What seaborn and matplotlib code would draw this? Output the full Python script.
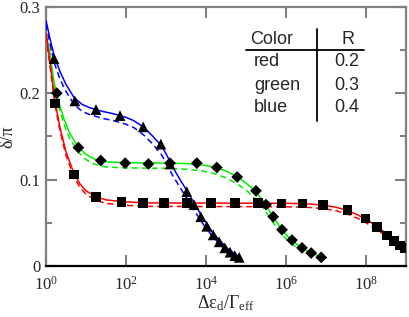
import numpy as np
import pandas as pd
import matplotlib
matplotlib.use("Agg")
import matplotlib.pyplot as plt
import seaborn as sns

# ---------------- data (x given as log10 exponents) ----------------
blue_solid_lx = [0.0, 0.1, 0.2, 0.35, 0.5, 0.7, 0.9, 1.1, 1.4, 1.7, 2.0, 2.2, 2.43, 2.65, 2.87, 3.0, 3.15, 3.35, 3.55, 3.75, 3.95, 4.15, 4.35, 4.55, 4.72, 4.85]
blue_solid_y = [0.284, 0.263, 0.244, 0.225, 0.210, 0.195, 0.187, 0.183, 0.179, 0.176, 0.172, 0.168, 0.161, 0.151, 0.140, 0.130, 0.116, 0.100, 0.085, 0.069, 0.054, 0.040, 0.029, 0.020, 0.014, 0.010]
blue_dash_lx = blue_solid_lx
blue_dash_y = [0.280, 0.257, 0.236, 0.216, 0.202, 0.187, 0.179, 0.175, 0.171, 0.168, 0.164, 0.160, 0.152, 0.142, 0.130, 0.120, 0.106, 0.091, 0.076, 0.061, 0.047, 0.035, 0.025, 0.016, 0.011, 0.007]
blue_mark_lx = [0.2, 0.72, 1.25, 1.85, 2.43, 2.87, 3.1, 3.52, 3.70, 3.87, 4.02, 4.18, 4.33, 4.47, 4.60, 4.72, 4.83]
blue_mark_y = [0.240, 0.191, 0.181, 0.174, 0.161, 0.141, 0.118, 0.086, 0.071, 0.057, 0.046, 0.036, 0.028, 0.021, 0.016, 0.012, 0.010]

green_solid_lx = [0.0, 0.1, 0.2, 0.3, 0.45, 0.6, 0.8, 1.0, 1.2, 1.5, 2.0, 3.0, 3.5, 3.9, 4.2, 4.5, 4.78, 5.0, 5.25, 5.45, 5.65, 5.85, 6.05, 6.3, 6.55, 6.8, 7.0]
green_solid_y = [0.270, 0.245, 0.213, 0.193, 0.170, 0.153, 0.138, 0.129, 0.124, 0.1205, 0.1195, 0.119, 0.1185, 0.117, 0.1145, 0.110, 0.103, 0.096, 0.086, 0.074, 0.059, 0.045, 0.034, 0.024, 0.017, 0.012, 0.009]
green_dash_lx = green_solid_lx
green_dash_y = [0.265, 0.240, 0.207, 0.187, 0.164, 0.147, 0.132, 0.123, 0.118, 0.1145, 0.1135, 0.113, 0.112, 0.110, 0.107, 0.102, 0.095, 0.088, 0.077, 0.066, 0.052, 0.039, 0.029, 0.020, 0.014, 0.010, 0.007]
green_mark_lx = [0.27, 0.81, 1.37, 1.98, 2.56, 3.1, 3.77, 4.27, 4.78, 5.25, 5.50, 5.68, 5.90, 6.15, 6.40, 6.63, 6.88]
green_mark_y = [0.200, 0.137, 0.122, 0.119, 0.118, 0.119, 0.119, 0.114, 0.103, 0.087, 0.071, 0.057, 0.042, 0.030, 0.021, 0.015, 0.010]

red_solid_lx = [0.0, 0.1, 0.22, 0.35, 0.5, 0.7, 0.85, 1.0, 1.25, 1.5, 1.9, 2.5, 4.0, 6.0, 6.5, 6.93, 7.25, 7.54, 7.8, 8.0, 8.27, 8.52, 8.7, 8.85, 9.0]
red_solid_y = [0.270, 0.235, 0.192, 0.160, 0.132, 0.107, 0.095, 0.087, 0.080, 0.0765, 0.0745, 0.073, 0.0728, 0.0725, 0.072, 0.0705, 0.068, 0.064, 0.059, 0.054, 0.046, 0.037, 0.031, 0.026, 0.021]
red_dash_lx = red_solid_lx
red_dash_y = [0.266, 0.231, 0.188, 0.156, 0.128, 0.103, 0.091, 0.083, 0.076, 0.0725, 0.0705, 0.069, 0.0688, 0.0685, 0.068, 0.0665, 0.064, 0.060, 0.055, 0.050, 0.042, 0.034, 0.028, 0.023, 0.018]
red_mark_lx = [0.22, 0.7, 1.25, 1.89, 2.42, 2.95, 3.52, 4.12, 4.72, 5.3, 5.89, 6.41, 6.93, 7.54, 7.99, 8.27, 8.52, 8.70, 8.85, 8.97]
red_mark_y = [0.188, 0.106, 0.080, 0.074, 0.073, 0.073, 0.073, 0.073, 0.073, 0.073, 0.0725, 0.0725, 0.0705, 0.0648, 0.055, 0.045, 0.035, 0.029, 0.024, 0.021]

table_header = ["Color", "R"]
table_colors = ["red", "green", "blue"]
table_R = ["0.2", "0.3", "0.4"]

x_ticks_exp = [0, 2, 4, 6, 8]
y_ticks = [0, 0.1, 0.2, 0.3]
y_tick_labels = ["0", "0.1", "0.2", "0.3"]

# ---------------- style ----------------
sns.set_style("ticks")
plt.rcParams["font.family"] = ["Liberation Serif", "DejaVu Serif"]
plt.rcParams["mathtext.fontset"] = "custom"
plt.rcParams["mathtext.rm"] = "Liberation Serif"
plt.rcParams["mathtext.it"] = "Liberation Serif:italic"

fig = plt.figure(figsize=(4.09, 3.17), dpi=100)
ax = fig.add_axes([46/409, 1-266/317, 360/409, (266-6.7)/317])

lines_spec = [
    ("#0000ff", blue_solid_lx, blue_solid_y, blue_dash_lx, blue_dash_y),
    ("#00ee00", green_solid_lx, green_solid_y, green_dash_lx, green_dash_y),
    ("#ff0000", red_solid_lx, red_solid_y, red_dash_lx, red_dash_y),
]
for col, slx, sy, dlx, dy in lines_spec:
    ds = pd.DataFrame({"x": np.power(10.0, slx), "y": sy})
    dd = pd.DataFrame({"x": np.power(10.0, dlx), "y": dy})
    sns.lineplot(data=ds, x="x", y="y", ax=ax, color=col, lw=1.1, sort=False, zorder=3)
    sns.lineplot(data=dd, x="x", y="y", ax=ax, color=col, lw=1.1, sort=False, zorder=3,
                 linestyle=(0, (4, 2.5)))

marks_spec = [
    ("s", 46, red_mark_lx, red_mark_y),
    ("D", 36, green_mark_lx, green_mark_y),
    ("^", 60, blue_mark_lx, blue_mark_y),
]
for m, s, lx, y in marks_spec:
    dm = pd.DataFrame({"x": np.power(10.0, lx), "y": y})
    sns.scatterplot(data=dm, x="x", y="y", ax=ax, marker=m, s=s, color="black",
                    edgecolor="none", zorder=4)

ax.set_xscale("log")
ax.set_xlim(1, 1e9)
ax.set_ylim(0, 0.3)
ax.set_xticks([10.0**e for e in x_ticks_exp])
ax.set_xticklabels([r"$\mathrm{10}^{%d}$" % e for e in x_ticks_exp], fontsize=12)
ax.xaxis.set_minor_locator(matplotlib.ticker.NullLocator())
ax.set_yticks(y_ticks)
ax.set_yticklabels(y_tick_labels, fontsize=12)
ax.set_yticks([0.05, 0.15, 0.25], minor=True)

ax.tick_params(which="both", direction="in", top=True, right=True, color="#808080", width=1.5)
ax.tick_params(which="major", length=8)
ax.tick_params(axis="x", which="major", pad=7)
ax.tick_params(axis="y", which="major", pad=4)
ax.tick_params(which="minor", length=4.5)
for side in ["left", "right", "top"]:
    ax.spines[side].set_color("#808080")
    ax.spines[side].set_linewidth(1.6)
ax.spines["bottom"].set_color("black")
ax.spines["bottom"].set_linewidth(1.6)

ax.set_xlabel(r"Δε$_\mathrm{d}$/Γ$_\mathrm{eff}$", fontsize=13, labelpad=0)
ax.set_ylabel("δ/π", fontsize=13, labelpad=2)

# table
tf = ["Liberation Sans", "DejaVu Sans"]
ax.text(0.567, 0.875, table_header[0], transform=ax.transAxes, family=tf, fontsize=13, ha="left", va="center")
ax.text(0.838, 0.875, table_header[1], transform=ax.transAxes, family=tf, fontsize=13, ha="center", va="center")
rows_y = [0.787, 0.698, 0.611]
for ry, c, r in zip(rows_y, table_colors, table_R):
    ax.text(0.578, ry, c, transform=ax.transAxes, family=tf, fontsize=13, ha="left", va="center")
    ax.text(0.836, ry, r, transform=ax.transAxes, family=tf, fontsize=13, ha="center", va="center")
ax.plot([0.555, 0.883], [0.833, 0.833], transform=ax.transAxes, color="black", lw=1.3, zorder=5)
ax.plot([0.754, 0.754], [0.559, 0.914], transform=ax.transAxes, color="black", lw=1.3, zorder=5)

fig.savefig("out.png", dpi=100)
